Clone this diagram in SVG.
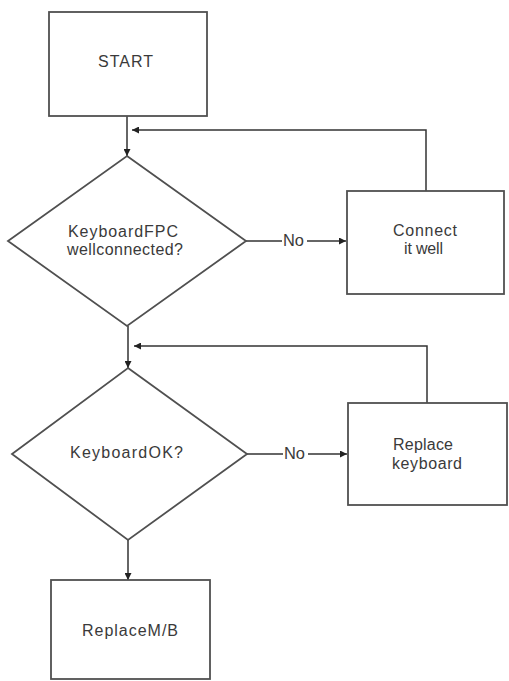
<svg xmlns="http://www.w3.org/2000/svg" width="509" height="681" viewBox="0 0 509 681">
<style>
.shape{fill:#fff;stroke:#505050;stroke-width:1.8}
.edge{fill:none;stroke:#333;stroke-width:1.5}
.lbl{font-family:"Liberation Sans",Arial,sans-serif;font-size:16px;fill:#3a3a3a}
</style>
<defs>
<marker id="arr" viewBox="0 0 10 10" refX="10" refY="5" markerWidth="8" markerHeight="7" markerUnits="userSpaceOnUse" orient="auto">
<path d="M0,0 L10,5 L0,10 z" fill="#222"/>
</marker>
</defs>
<rect width="509" height="681" fill="#fff"/>
<g id="connectors">
<path class="edge" d="M127,116 V156" marker-end="url(#arr)"/>
<path class="edge" d="M426,191 V130 H132" marker-end="url(#arr)"/>
<path class="edge" d="M246,241 H282"/>
<path class="edge" d="M307,241 H346" marker-end="url(#arr)"/>
<path class="edge" d="M128,326 V368" marker-end="url(#arr)"/>
<path class="edge" d="M427,403 V346 H134" marker-end="url(#arr)"/>
<path class="edge" d="M247,454 H283"/>
<path class="edge" d="M308,454 H347" marker-end="url(#arr)"/>
<path class="edge" d="M128,540 V580" marker-end="url(#arr)"/>
<text class="lbl" x="283" y="246" textLength="21" lengthAdjust="spacingAndGlyphs">No</text>
<text class="lbl" x="284" y="459" textLength="21" lengthAdjust="spacingAndGlyphs">No</text>
</g>
<g id="start">
<rect class="shape" x="49" y="12" width="158" height="104"/>
<text class="lbl" x="98" y="67" textLength="55" lengthAdjust="spacing">START</text>
</g>
<g id="check-fpc">
<polygon class="shape" points="127,156 246,241 127,326 8,241"/>
<text class="lbl" x="68" y="237" textLength="110" lengthAdjust="spacing">KeyboardFPC</text>
<text class="lbl" x="67" y="255" textLength="116" lengthAdjust="spacing">wellconnected?</text>
</g>
<g id="connect-well">
<rect class="shape" x="347" y="191" width="157" height="103"/>
<text class="lbl" x="393" y="236" textLength="64" lengthAdjust="spacing">Connect</text>
<text class="lbl" x="404" y="254" textLength="39" lengthAdjust="spacing">it well</text>
</g>
<g id="check-keyboard">
<polygon class="shape" points="128,368 247,454 128,540 12,454"/>
<text class="lbl" x="70" y="458" textLength="113" lengthAdjust="spacing">KeyboardOK?</text>
</g>
<g id="replace-keyboard">
<rect class="shape" x="348" y="403" width="159" height="102"/>
<text class="lbl" x="393" y="450" textLength="60" lengthAdjust="spacing">Replace</text>
<text class="lbl" x="392" y="469" textLength="70" lengthAdjust="spacing">keyboard</text>
</g>
<g id="replace-mb">
<rect class="shape" x="51" y="580" width="159" height="99"/>
<text class="lbl" x="82" y="636" textLength="96" lengthAdjust="spacing">ReplaceM/B</text>
</g>
</svg>
